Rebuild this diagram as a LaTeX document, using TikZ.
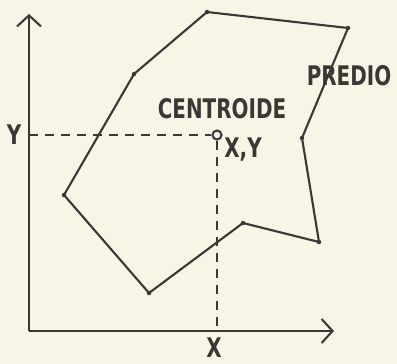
\documentclass[tikz,border=0pt]{standalone}
\usepackage{fontspec}
\setsansfont{DejaVu Sans Condensed}
\usetikzlibrary{arrows.meta}
\definecolor{Paper}{HTML}{F8F5E6}
\definecolor{Ink}  {HTML}{3A3835}
\tikzset{
  edge/.style={draw=Ink, line width=2.1pt, line join=round},
  axis/.style={draw=Ink, line width=2.3pt,
               -{Straight Barb[length=11pt,width=24pt,line width=2.1pt]}},
  guide/.style={draw=Ink, line width=2.1pt, dash pattern=on 9pt off 7pt},
  vtx/.style={circle, fill=Ink, minimum size=4.5pt, inner sep=0pt},
  lbl/.style={font=\sffamily\bfseries\fontsize{27}{27}\selectfont, text=Ink,
              inner sep=0pt, xscale=0.82, transform shape}
}

\begin{document}
\begin{tikzpicture}[x=1pt,y=-1pt]
  \fill[Paper] (0,0) rectangle (397,364);
  \useasboundingbox (0,0) rectangle (397,364);
  % axes
  \coordinate (O) at (29,331);
  \coordinate (Ytip) at (29,14);
  \coordinate (Xtip) at (334,331);
  \draw[axis] (O) -- (Ytip);
  \draw[axis] (O) -- (Xtip);
  % predio
  \node[vtx] (p1) at (207,12) {};
  \node[vtx] (p2) at (348,28) {};
  \node[vtx] (p3) at (302,138) {};
  \node[vtx] (p4) at (319,242) {};
  \node[vtx] (p5) at (243,223) {};
  \node[vtx] (p6) at (149,293) {};
  \node[vtx] (p7) at (64,195) {};
  \node[vtx] (p8) at (134,74) {};
  \draw[edge] (p1.center)--(p2.center)--(p3.center)--(p4.center)--(p5.center)
    --(p6.center)--(p7.center)--(p8.center)--cycle;
  % centroide
  \node[circle, draw=Ink, line width=2.1pt, minimum size=9pt, inner sep=0pt] (G) at (217,135) {};
  \coordinate (Gy) at (O |- G);
  \coordinate (Gx) at (G |- O);
  \draw[guide] (Gy) -- (G.west);
  \draw[guide] (G.south) -- (Gx);
  % textos
  \node[lbl] (ylab) at (14,135) {Y};
  \node[lbl] (xlab) at (214,348) {X};
  \node[lbl] (cname) at (222,109) {CENTROIDE};
  \node[lbl] (cxy) at (243,150) {X,Y};
  \node[lbl] (pname) at (349,76) {PREDIO};
\end{tikzpicture}
\end{document}
